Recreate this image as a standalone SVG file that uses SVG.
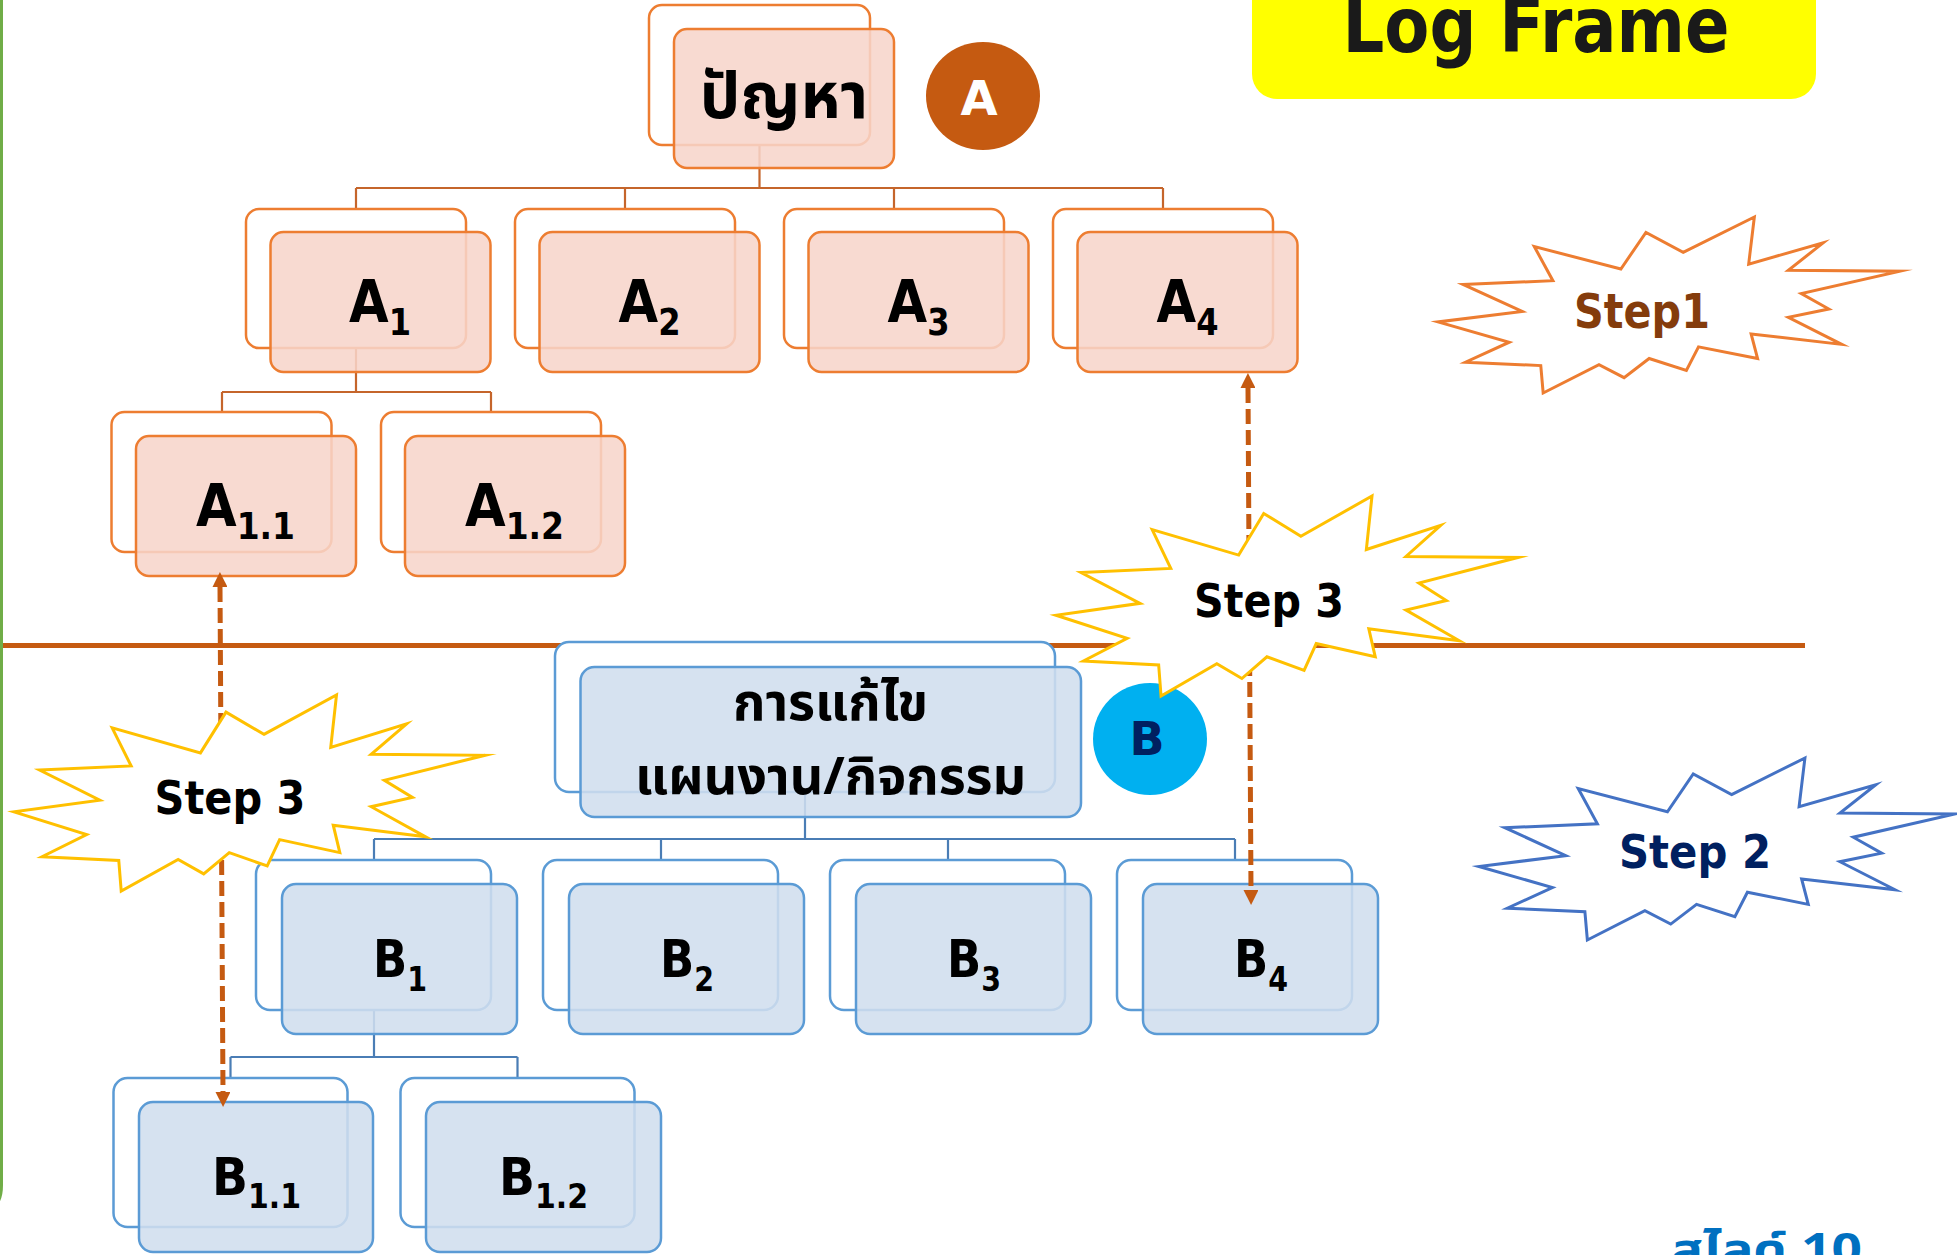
<svg xmlns="http://www.w3.org/2000/svg" xmlns:xlink="http://www.w3.org/1999/xlink" width="1957" height="1255" viewBox="0 0 1957 1255">
<style>
.bka{fill:#fff;stroke:#ED7D31;stroke-width:2.5}
.fra{fill:#F7D5CA;fill-opacity:.87;stroke:#ED7D31;stroke-width:2.5}
.bkb{fill:#fff;stroke:#5B9BD5;stroke-width:2.5}
.frb{fill:#D0DEEE;fill-opacity:.87;stroke:#5B9BD5;stroke-width:2.5}
.ca{fill:none;stroke:#C5652B;stroke-width:2.2}
.cb{fill:none;stroke:#4A7DB5;stroke-width:2.2}
.lbl{font-family:"DejaVu Sans","Liberation Sans",sans-serif;font-weight:bold;fill:#000;text-anchor:middle}
.th{font-family:Tahoma,"Noto Sans Thai","Noto Sans Thai UI",Loma,Garuda,"DejaVu Sans",sans-serif;font-weight:bold;fill:#000;text-anchor:middle}
.dash{fill:none;stroke:#C55A11;stroke-width:5;stroke-dasharray:15 6}
.seal{fill:#fff;stroke-width:3;stroke-linejoin:miter;stroke-miterlimit:10}
</style>
<defs>
<path id="seal" vector-effect="non-scaling-stroke" d="M11462,4342 L14790,0 L14525,5777 L18007,3172 L16380,6532 L21600,6645 L16985,9402 L18270,11290 L16380,12310 L18877,15632 L14640,14350 L14942,17370 L12180,15935 L11612,18842 L9872,17370 L8700,19712 L7527,18125 L4917,21600 L4805,18240 L1285,17825 L3330,15370 L0,12877 L3935,11592 L1172,8270 L5372,7817 L4502,3625 L8550,6382 L9722,1887 Z"/>
<marker id="ah" viewBox="0 0 10 10" refX="0" refY="5" markerUnits="userSpaceOnUse" markerWidth="17" markerHeight="15" orient="auto-start-reverse">
<path d="M0,0 L10,5 L0,10 Z" fill="#C55A11"/>
</marker>
</defs>

<path d="M1.5,-5 V1185 Q1.5,1201 -6,1206" fill="none" stroke="#70AD47" stroke-width="3"/>

<g id="title">
<rect x="1252" y="-30" width="564" height="129" rx="25" fill="#FFFF00"/>
<text x="1536" y="52" font-family="DejaVu Sans,sans-serif" font-weight="bold" font-size="76" fill="#1A1A1A" text-anchor="middle" textLength="387" lengthAdjust="spacingAndGlyphs">Log Frame</text>
</g>

<line x1="3" y1="645.5" x2="1805" y2="645.5" stroke="#C55A11" stroke-width="5"/>

<g id="connectors">
<path class="ca" d="M759.5,145 V188 M356,188 H1163 M356,188 V209 M625,188 V209 M894,188 V209 M1163,188 V209"/>
<path class="ca" d="M356,348 V392 M222,392 H491 M222,392 V412 M491,392 V412"/>
<path class="cb" d="M805,792 V839 M374,839 H1235 M374,839 V860 M661,839 V860 M948,839 V860 M1235,839 V860"/>
<path class="cb" d="M374,1010 V1057 M230.5,1057 H517.5 M230.5,1057 V1078 M517.5,1057 V1078"/>
</g>

<g id="node-problem">
<rect class="bka" x="649" y="5" width="221" height="140" rx="13"/>
<rect class="fra" x="674" y="29" width="220" height="139" rx="13"/>
<text class="th" x="784" y="118" font-size="64">ปัญหา</text>
</g>
<g id="node-A1">
<rect class="bka" x="246" y="209" width="220" height="139" rx="13"/>
<rect class="fra" x="270.5" y="232" width="220" height="140" rx="13"/>
<text class="lbl" x="380" y="322" font-size="59" textLength="62" lengthAdjust="spacingAndGlyphs">A<tspan font-size="37" dy="13">1</tspan></text>
</g>
<g id="node-A2">
<rect class="bka" x="515" y="209" width="220" height="139" rx="13"/>
<rect class="fra" x="539.5" y="232" width="220" height="140" rx="13"/>
<text class="lbl" x="649.5" y="322" font-size="59" textLength="62" lengthAdjust="spacingAndGlyphs">A<tspan font-size="37" dy="13">2</tspan></text>
</g>
<g id="node-A3">
<rect class="bka" x="784" y="209" width="220" height="139" rx="13"/>
<rect class="fra" x="808.5" y="232" width="220" height="140" rx="13"/>
<text class="lbl" x="918.5" y="322" font-size="59" textLength="62" lengthAdjust="spacingAndGlyphs">A<tspan font-size="37" dy="13">3</tspan></text>
</g>
<g id="node-A4">
<rect class="bka" x="1053" y="209" width="220" height="139" rx="13"/>
<rect class="fra" x="1077.5" y="232" width="220" height="140" rx="13"/>
<text class="lbl" x="1187.5" y="322" font-size="59" textLength="62" lengthAdjust="spacingAndGlyphs">A<tspan font-size="37" dy="13">4</tspan></text>
</g>
<g id="node-A11">
<rect class="bka" x="111.5" y="412" width="220" height="140" rx="13"/>
<rect class="fra" x="136" y="436" width="220" height="140" rx="13"/>
<text class="lbl" x="245.5" y="526" font-size="59" textLength="99" lengthAdjust="spacingAndGlyphs">A<tspan font-size="37" dy="13">1.1</tspan></text>
</g>
<g id="node-A12">
<rect class="bka" x="381" y="412" width="220" height="140" rx="13"/>
<rect class="fra" x="405" y="436" width="220" height="140" rx="13"/>
<text class="lbl" x="514.5" y="526" font-size="59" textLength="99" lengthAdjust="spacingAndGlyphs">A<tspan font-size="37" dy="13">1.2</tspan></text>
</g>

<g id="badge-A">
<ellipse cx="983" cy="96" rx="57" ry="54" fill="#C55A11"/>
<text x="979" y="115" font-family="DejaVu Sans,sans-serif" font-weight="bold" font-size="48" fill="#fff" text-anchor="middle">A</text>
</g>

<g id="node-solution">
<rect class="bkb" x="555" y="642" width="500" height="150" rx="14"/>
<rect class="frb" x="580.5" y="667" width="500.5" height="150" rx="14"/>
<text class="th" x="830.5" y="720" font-size="52">การแก้ไข</text>
<text class="th" x="830.5" y="794" font-size="52">แผนงาน/กิจกรรม</text>
</g>
<g id="node-B1">
<rect class="bkb" x="256" y="860" width="235" height="150" rx="14"/>
<rect class="frb" x="282" y="884" width="235" height="150" rx="14"/>
<text class="lbl" x="400" y="977" font-size="52" textLength="54" lengthAdjust="spacingAndGlyphs">B<tspan font-size="33" dy="14">1</tspan></text>
</g>
<g id="node-B2">
<rect class="bkb" x="543" y="860" width="235" height="150" rx="14"/>
<rect class="frb" x="569" y="884" width="235" height="150" rx="14"/>
<text class="lbl" x="687" y="977" font-size="52" textLength="54" lengthAdjust="spacingAndGlyphs">B<tspan font-size="33" dy="14">2</tspan></text>
</g>
<g id="node-B3">
<rect class="bkb" x="830" y="860" width="235" height="150" rx="14"/>
<rect class="frb" x="856" y="884" width="235" height="150" rx="14"/>
<text class="lbl" x="974" y="977" font-size="52" textLength="54" lengthAdjust="spacingAndGlyphs">B<tspan font-size="33" dy="14">3</tspan></text>
</g>
<g id="node-B4">
<rect class="bkb" x="1117" y="860" width="235" height="150" rx="14"/>
<rect class="frb" x="1143" y="884" width="235" height="150" rx="14"/>
<text class="lbl" x="1261" y="977" font-size="52" textLength="54" lengthAdjust="spacingAndGlyphs">B<tspan font-size="33" dy="14">4</tspan></text>
</g>
<g id="node-B11">
<rect class="bkb" x="113.5" y="1078" width="234" height="149" rx="14"/>
<rect class="frb" x="139" y="1102" width="234" height="150" rx="14"/>
<text class="lbl" x="256.5" y="1195" font-size="52" textLength="89" lengthAdjust="spacingAndGlyphs">B<tspan font-size="33" dy="13">1.1</tspan></text>
</g>
<g id="node-B12">
<rect class="bkb" x="400.5" y="1078" width="234" height="149" rx="14"/>
<rect class="frb" x="426" y="1102" width="235" height="150" rx="14"/>
<text class="lbl" x="543.5" y="1195" font-size="52" textLength="89" lengthAdjust="spacingAndGlyphs">B<tspan font-size="33" dy="13">1.2</tspan></text>
</g>

<g id="badge-B">
<ellipse cx="1150" cy="739" rx="57" ry="56" fill="#00B0F0"/>
<text x="1147" y="755" font-family="DejaVu Sans,sans-serif" font-weight="bold" font-size="46" fill="#002060" text-anchor="middle">B</text>
</g>

<g id="arrows">
<path class="dash" d="M220,587 L223,1092" marker-start="url(#ah)" marker-end="url(#ah)"/>
<path class="dash" d="M1248,388 L1251,890" marker-start="url(#ah)" marker-end="url(#ah)"/>
</g>

<g id="step1">
<use xlink:href="#seal" class="seal" stroke="#ED7D31" transform="translate(1438,217) scale(0.021389,0.008148)"/>
<text x="1642" y="328" font-family="DejaVu Sans,sans-serif" font-weight="bold" font-size="48" fill="#843C0C" text-anchor="middle" textLength="136" lengthAdjust="spacingAndGlyphs">Step1</text>
</g>
<g id="step3-right">
<use xlink:href="#seal" class="seal" stroke="#FFC000" transform="translate(1056,496) scale(0.021366,0.009259)"/>
<text x="1269" y="617" font-family="DejaVu Sans,sans-serif" font-weight="bold" font-size="46" fill="#000" text-anchor="middle" textLength="150" lengthAdjust="spacingAndGlyphs">Step 3</text>
</g>
<g id="step3-left">
<use xlink:href="#seal" class="seal" stroke="#FFC000" transform="translate(14,695) scale(0.021806,0.009074)"/>
<text x="230" y="814" font-family="DejaVu Sans,sans-serif" font-weight="bold" font-size="47" fill="#000" text-anchor="middle" textLength="151" lengthAdjust="spacingAndGlyphs">Step 3</text>
</g>
<g id="step2">
<use xlink:href="#seal" class="seal" stroke="#4472C4" transform="translate(1479,758) scale(0.022037,0.008426)"/>
<text x="1695" y="868" font-family="DejaVu Sans,sans-serif" font-weight="bold" font-size="47" fill="#002060" text-anchor="middle" textLength="152" lengthAdjust="spacingAndGlyphs">Step 2</text>
</g>

<text x="1671" y="1264" font-family="Tahoma,'Noto Sans Thai','DejaVu Sans',sans-serif" font-weight="bold" font-size="43" fill="#0070C0" textLength="191" lengthAdjust="spacingAndGlyphs">สไลด์ 10</text>
</svg>
